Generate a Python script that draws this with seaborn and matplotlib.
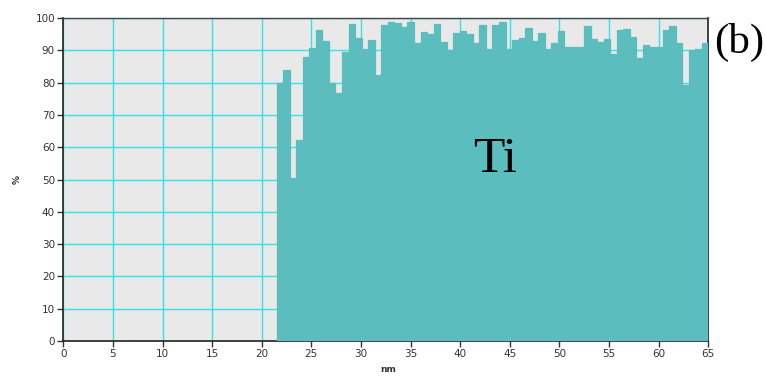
import numpy as np
import pandas as pd
import matplotlib
matplotlib.use("Agg")
import matplotlib.pyplot as plt
import seaborn as sns

# Ti concentration profile (%) along the depth scan, one value per channel
ti_percent = [
    80.0, 84.0, 50.5, 62.3, 88.0, 90.8, 96.3, 92.9, 80.0, 76.8,
    89.6, 98.1, 93.7, 90.3, 93.2, 82.4, 97.8, 98.9, 98.5, 97.1,
    98.9, 92.4, 95.8, 95.0, 98.1, 92.7, 90.1, 95.5, 96.0, 95.0,
    92.2, 97.8, 90.3, 97.8, 98.8, 90.5, 93.2, 93.7, 96.8, 93.0,
    95.5, 90.3, 92.4, 96.0, 91.0, 91.0, 91.0, 97.5, 93.5, 92.5,
    93.5, 89.0, 96.3, 96.5, 94.2, 87.5, 91.6, 90.9, 91.0, 96.3,
    97.5, 92.2, 79.3, 90.1, 90.3, 92.2,
]
scan_start_nm = 21.5
scan_end_nm = 65.0
x_ticks = [0, 5, 10, 15, 20, 25, 30, 35, 40, 45, 50, 55, 60, 65]
y_ticks = [0, 10, 20, 30, 40, 50, 60, 70, 80, 90, 100]
element_label = "Ti"
panel_label = "(b)"

edges = np.linspace(scan_start_nm, scan_end_nm, len(ti_percent) + 1)
centers = np.round((edges[:-1] + edges[1:]) / 2, 4)
df = pd.DataFrame({"nm": centers, "pct": ti_percent})

sns.set_theme(style="white")
plt.rcParams["font.family"] = ["DejaVu Sans"]

bar_color = "#5bbdbd"

fig = plt.figure(figsize=(7.66, 3.76), dpi=100)
ax = fig.add_axes([0.0826, 0.093, 0.8421, 0.859])
ax.set_facecolor("#e9e9e9")

# contiguous channels: a thin edge in the fill colour closes the seams
sns.barplot(data=df, x="nm", y="pct", native_scale=True, width=1.0,
            color=bar_color, saturation=1, linewidth=0.9,
            edgecolor=bar_color, errorbar=None, ax=ax, zorder=3)

ax.set_xlim(0, 65)
ax.set_ylim(0, 100)
ax.set_xticks(x_ticks)
ax.set_xticklabels([str(t) for t in x_ticks])
ax.set_yticks(y_ticks)
ax.grid(True, color="#33e3e6", linewidth=1.0, zorder=1)
ax.set_axisbelow(True)

ax.tick_params(axis="both", which="major", direction="out", length=4,
               width=1, color="#333333", labelsize=7.5, labelcolor="#333333",
               bottom=True, left=True, pad=2)
for side in ["left", "bottom", "right"]:
    ax.spines[side].set_color("#222222")
    ax.spines[side].set_linewidth(1.2)
ax.spines["top"].set_color("#444444")
ax.spines["top"].set_linewidth(1.0)

ax.set_xlabel("nm", fontsize=6.5, fontweight="bold", color="#333333")
ax.xaxis.set_label_coords(0.503, -0.075)
ax.set_ylabel("%", fontsize=6.5, fontweight="bold", color="#333333")
ax.yaxis.set_label_coords(-0.064, 0.5)

ax.text(0.67, 0.56, element_label, transform=ax.transAxes,
        family="Liberation Serif", fontsize=37, color="black",
        ha="center", va="center", zorder=5)
fig.text(0.965, 0.887, panel_label, family="Liberation Serif",
         fontsize=31, color="black", ha="center", va="center")

fig.savefig("out.png", dpi=100)
